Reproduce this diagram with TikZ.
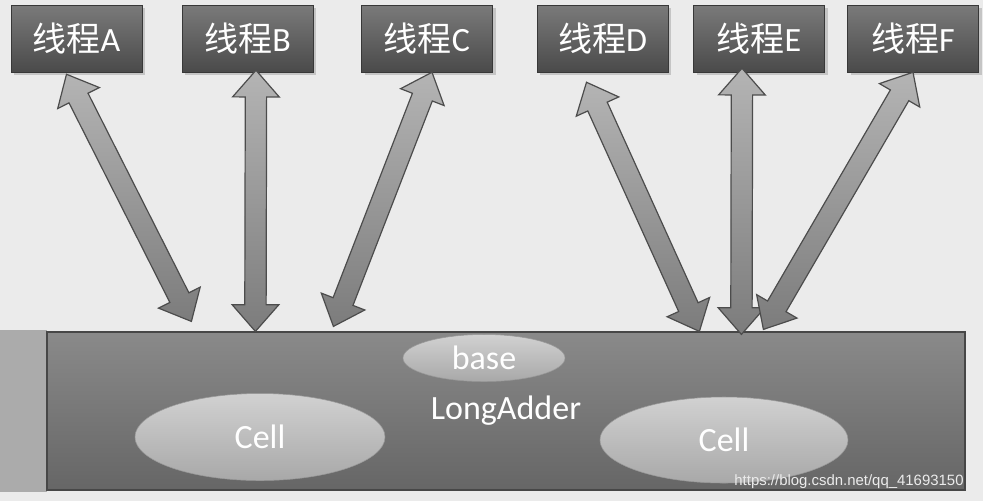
\documentclass[tikz,border=0pt]{standalone}
\usepackage{fontspec}
\usepackage{tikz}
\usetikzlibrary{calc,shapes.geometric,shadows}
\setmainfont{Carlito}
\newfontfamily\cjk{Noto Sans CJK SC}
\newfontfamily\wmfont{Liberation Sans}
\definecolor{bggray}{HTML}{EBEBEB}
\definecolor{boxtop}{HTML}{7A7A7A}
\definecolor{boxbot}{HTML}{4A4A4A}
\definecolor{arrtop}{HTML}{B4B4B4}
\definecolor{arrbot}{HTML}{7C7C7C}

\begin{document}
\begin{tikzpicture}[
  x=0.75pt, y=-0.75pt,
  thread/.style={draw=black!78, top color=boxtop, bottom color=boxbot, minimum width=98.25pt, minimum height=50.25pt, inner sep=0pt, text=white, font=\fontsize{25.5}{28}\selectfont, drop shadow={opacity=0.35}},
  cell/.style={ellipse, draw=black!40, top color=black!18, bottom color=black!34, inner sep=0pt, text=white, font=\fontsize{25.5}{30}\selectfont},
  dbl/.style={draw=black!70, line width=0.9pt, top color=arrtop, bottom color=arrbot, line join=miter,
    to path={(\tikztostart)
      -- ($(\tikztostart)!20pt!(\tikztotarget)!17.5pt!90:(\tikztotarget)$)
      -- ($(\tikztostart)!20pt!(\tikztotarget)!8pt!90:(\tikztotarget)$)
      -- ($(\tikztotarget)!20pt!(\tikztostart)!8pt!-90:(\tikztostart)$)
      -- ($(\tikztotarget)!20pt!(\tikztostart)!17.5pt!-90:(\tikztostart)$)
      -- (\tikztotarget)
      -- ($(\tikztotarget)!20pt!(\tikztostart)!17.5pt!90:(\tikztostart)$)
      -- ($(\tikztotarget)!20pt!(\tikztostart)!8pt!90:(\tikztostart)$)
      -- ($(\tikztostart)!20pt!(\tikztotarget)!8pt!-90:(\tikztotarget)$)
      -- ($(\tikztostart)!20pt!(\tikztotarget)!17.5pt!-90:(\tikztotarget)$)
      -- cycle}}
]
\useasboundingbox (0,0) rectangle (983,501);
\fill[bggray] (0,0) rectangle (983,501);
\fill[black!33] (0,330) rectangle (47,492);

% LongAdder and its parts
\node[draw=black!72, line width=0.9pt, top color=black!46, bottom color=black!60, minimum width=688.5pt, minimum height=118.5pt, inner sep=0pt, text=white, font=\fontsize{25.5}{30}\selectfont] (adder) at (506,411) {LongAdder};
\node[cell, minimum width=121.5pt, minimum height=35.25pt] (base) at (484,358) {base};
\node[cell, minimum width=187.5pt, minimum height=65.25pt] (cellL) at (260,437) {Cell};
\node[cell, minimum width=186pt, minimum height=64.5pt] (cellR) at (724,440) {Cell};

% threads
\node[thread] (thA) at (76.5,38.5) {{\cjk 线程}A};
\node[thread] (thB) at (247.5,38.5) {{\cjk 线程}B};
\node[thread] (thC) at (427,38.5) {{\cjk 线程}C};
\node[thread] (thD) at (602.5,38.5) {{\cjk 线程}D};
\node[thread] (thE) at (759,38.5) {{\cjk 线程}E};
\node[thread] (thF) at (913,38.5) {{\cjk 线程}F};

% double arrows
\draw[dbl] ([shift={(-10,2)}]thA.south) to ([shift={(145,-10)}]adder.north west);
\draw[dbl] ([shift={(8.5,-2)}]thB.south) to ([shift={(209,0)}]adder.north west);
\draw[dbl] ([shift={(5,0)}]thC.south) to ([shift={(287,-5)}]adder.north west);
\draw[dbl] ([shift={(-16,10)}]thD.south) to ([shift={(653,0)}]adder.north west);
\draw[dbl] ([shift={(-17,-4)}]thE.south) to ([shift={(695,3)}]adder.north west);
\draw[dbl] ([shift={(0,0)}]thF.south) to ([shift={(717,-2)}]adder.north west);

\node[text=white!92!black, font=\wmfont\fontsize{11.2}{13}\selectfont] (wm) at (849,482) {https://blog.csdn.net/qq\_41693150};
\end{tikzpicture}
\end{document}
